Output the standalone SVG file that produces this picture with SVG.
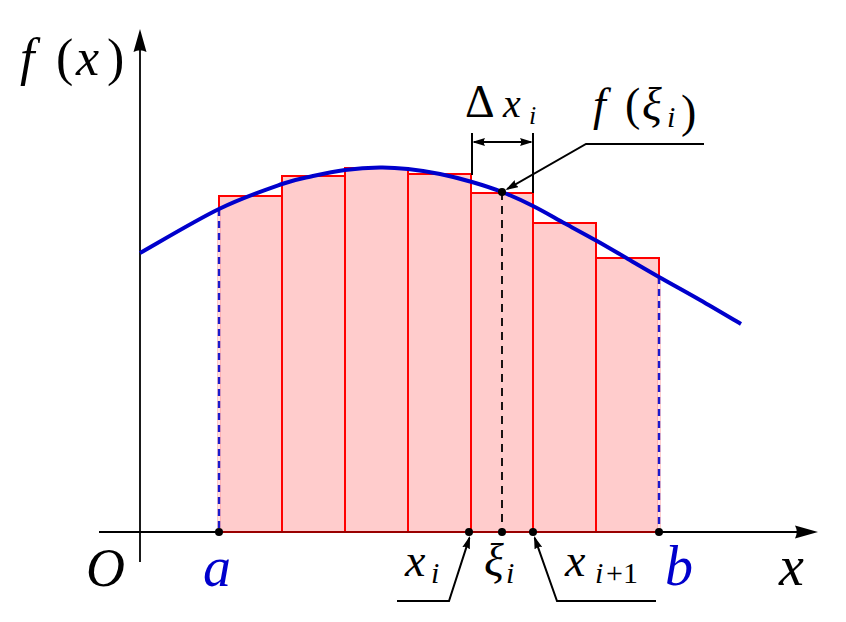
<svg xmlns="http://www.w3.org/2000/svg" width="846" height="622" viewBox="0 0 846 622">
<style>
text{font-family:'Liberation Serif','Times New Roman',serif;font-style:italic;fill:#000}
.u{font-style:normal}
.blue{fill:#0000cc}
.bar{fill:#ffcccc;stroke:#ff0000;stroke-width:2}
.axis{stroke:#000;stroke-width:1.8;fill:none}
.ld{stroke:#000;stroke-width:2;fill:none}
.dot{fill:#000}
</style>
<defs>
<marker id="big" markerUnits="userSpaceOnUse" viewBox="0 0 24 14" markerWidth="24" markerHeight="14" refX="10" refY="7" orient="auto">
<path d="M23,7 L0,0.5 Q3.5,7 0,13.5 Z" fill="#000"/>
</marker>
<marker id="sm" markerUnits="userSpaceOnUse" viewBox="0 0 13 8" markerWidth="13" markerHeight="8" refX="11" refY="4" orient="auto-start-reverse">
<path d="M13,4 L0,0 Q2.5,4 0,8 Z" fill="#000"/>
</marker>
</defs>

<g id="bars">
<rect class="bar" x="219" y="196" width="63" height="336"/>
<rect class="bar" x="282" y="176" width="63" height="356"/>
<rect class="bar" x="345" y="168" width="63" height="364"/>
<rect class="bar" x="408" y="174" width="63" height="358"/>
<rect class="bar" x="471" y="193" width="62" height="339"/>
<rect class="bar" x="533" y="223" width="63" height="309"/>
<rect class="bar" x="596" y="258" width="63" height="274"/>
</g>

<g id="axes">
<line class="axis" x1="99" y1="532" x2="805" y2="532" marker-end="url(#big)"/>
<line class="axis" x1="140" y1="562" x2="140" y2="42" marker-end="url(#big)"/>
<line x1="219" y1="532" x2="659" y2="532" stroke="#990000" stroke-width="2"/>
</g>

<g id="edges">
<line x1="219" y1="209" x2="219" y2="532" stroke="#ff9999" stroke-width="3"/>
<line x1="219" y1="209" x2="219" y2="532" stroke="#fff" stroke-width="1.4"/>
<line x1="219" y1="209" x2="219" y2="532" stroke="#1a1acc" stroke-width="2.4" stroke-dasharray="7 5"/>
<line x1="659" y1="277" x2="659" y2="532" stroke="#ff9999" stroke-width="3"/>
<line x1="659" y1="277" x2="659" y2="532" stroke="#fff" stroke-width="1.4"/>
<line x1="659" y1="277" x2="659" y2="532" stroke="#1a1acc" stroke-width="2.4" stroke-dasharray="7 5"/>
<line x1="502" y1="192" x2="502" y2="532" stroke="#000" stroke-width="1.8" stroke-dasharray="8 6"/>
</g>

<g id="curve">
<path d="M140,253 C153.17,245.67 195.33,220.5 219,209 C242.67,197.5 266.33,189.5 282,184 C297.67,178.5 302.5,178.33 313,176 C323.5,173.67 333.83,171.42 345,170 C356.17,168.58 369.5,167.67 380,167.5 C390.5,167.33 398,167.92 408,169 C418,170.08 429.33,171.83 440,174 C450.67,176.17 461.67,179 472,182 C482.33,185 491.83,188 502,192 C512.17,196 522.5,200.75 533,206 C543.5,211.25 554.33,217.67 565,223.5 C575.67,229.33 586.5,235.08 597,241 C607.5,246.92 617.67,253 628,259 C638.33,265 647,270.17 659,277 C671,283.83 686.33,292.17 700,300 C713.67,307.83 734.17,320 741,324" fill="none" stroke="#0000cc" stroke-width="4"/>
</g>

<g id="connectors">
<line class="ld" x1="472" y1="133" x2="472" y2="175"/>
<line class="ld" x1="533" y1="133" x2="533" y2="193"/>
<line class="ld" x1="474" y1="142" x2="531" y2="142" marker-start="url(#sm)" marker-end="url(#sm)"/>
<polyline class="ld" points="704,144 586,144 507.2,189" marker-end="url(#sm)"/>
<polyline class="ld" points="397,601 449,601 469.4,537.9" marker-end="url(#sm)"/>
<polyline class="ld" points="656,601 557,601 534.7,537.9" marker-end="url(#sm)"/>
</g>

<g id="points">
<circle class="dot" cx="219" cy="532" r="4"/>
<circle class="dot" cx="469" cy="532" r="4"/>
<circle class="dot" cx="502" cy="532" r="4"/>
<circle class="dot" cx="533" cy="532" r="4"/>
<circle class="dot" cx="659" cy="532" r="4"/>
<circle class="dot" cx="502" cy="192" r="4"/>
</g>

<g id="labels">
<text font-size="52" y="75"><tspan x="20">f</tspan><tspan class="u" x="56">(</tspan><tspan x="76">x</tspan><tspan class="u" x="107">)</tspan></text>
<text font-size="54" x="86" y="586">O</text>
<text class="blue" font-size="56" x="203" y="586">a</text>
<text class="blue" font-size="56" x="665" y="585">b</text>
<text font-size="56" x="779" y="585">x</text>
<text font-size="46" y="576"><tspan x="405">x</tspan><tspan font-size="30" x="431" y="583">i</tspan></text>
<text font-size="46" y="576"><tspan x="484">ξ</tspan><tspan font-size="30" x="506" y="583">i</tspan></text>
<text font-size="46" y="576"><tspan x="565">x</tspan><tspan font-size="30" x="595" y="583">i</tspan><tspan class="u" font-size="30" x="606" y="583">+1</tspan></text>
<text font-size="40" y="117"><tspan class="u" font-size="46" x="465">Δ</tspan><tspan x="503">x</tspan><tspan font-size="26" x="529" y="124">i</tspan></text>
<text font-size="46" y="120"><tspan x="593">f</tspan><tspan class="u" x="625">(</tspan><tspan x="642">ξ</tspan><tspan font-size="30" x="667" y="127">i</tspan><tspan class="u" x="681">)</tspan></text>
</g>
</svg>
